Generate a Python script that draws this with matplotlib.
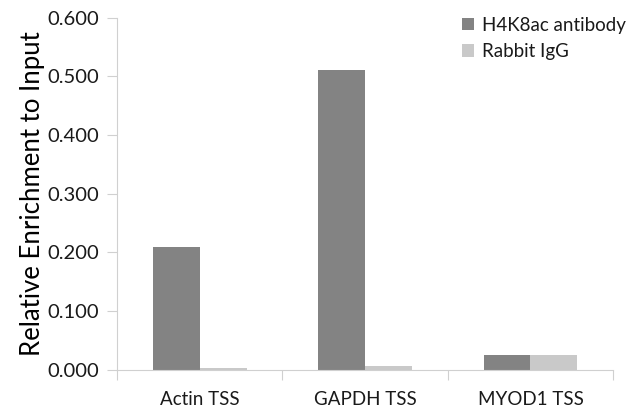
import matplotlib.pyplot as plt
import numpy as np

categories = ["Actin TSS", "GAPDH TSS", "MYOD1 TSS"]
h4k8ac = [0.210, 0.510, 0.026]
igg = [0.003, 0.007, 0.025]
yticks = [0.0, 0.1, 0.2, 0.3, 0.4, 0.5, 0.6]

plt.rcParams['font.family'] = ['Lato', 'DejaVu Sans']
plt.rcParams['text.color'] = '#1a1a1a'

fig = plt.figure(figsize=(6.4, 4.18), dpi=100)
ax = fig.add_axes([0.183, 0.115, 0.775, 0.843])

x = np.arange(len(categories))
w = 0.283
ax.bar(x - w/2, h4k8ac, width=w, color="#838383", label="H4K8ac antibody")
ax.bar(x + w/2, igg, width=w, color="#c9c9c9", label="Rabbit IgG")

ax.set_xlim(-0.5, 2.5)
ax.set_ylim(0, 0.6)
ax.set_yticks(yticks)
ax.set_yticklabels(["%.3f" % v for v in yticks], fontsize=14.5, color="#1a1a1a")
ax.set_xticks([-0.5, 0.5, 1.5, 2.5])
ax.set_xticklabels([])
ax.set_xticks(x, minor=True)
ax.set_xticklabels(categories, minor=True, fontsize=13.5, color="#1a1a1a")
ax.tick_params(axis="x", which="minor", length=0, pad=15)
ax.tick_params(axis="x", which="major", length=7, color="#d0d0d0")
ax.tick_params(axis="y", length=7, color="#d0d0d0", pad=6)
ax.set_ylabel("Relative Enrichment to Input", fontsize=18.5, labelpad=1.5)

for s in ["top", "right"]:
    ax.spines[s].set_visible(False)
ax.spines["left"].set_color("#d0d0d0")
ax.spines["bottom"].set_color("#d0d0d0")

ax.legend(loc="upper right", bbox_to_anchor=(1.06, 1.05), frameon=False, fontsize=13.5,
          handlelength=0.65, handleheight=0.65, handletextpad=0.45, labelspacing=0.5)

fig.savefig("out.png")
